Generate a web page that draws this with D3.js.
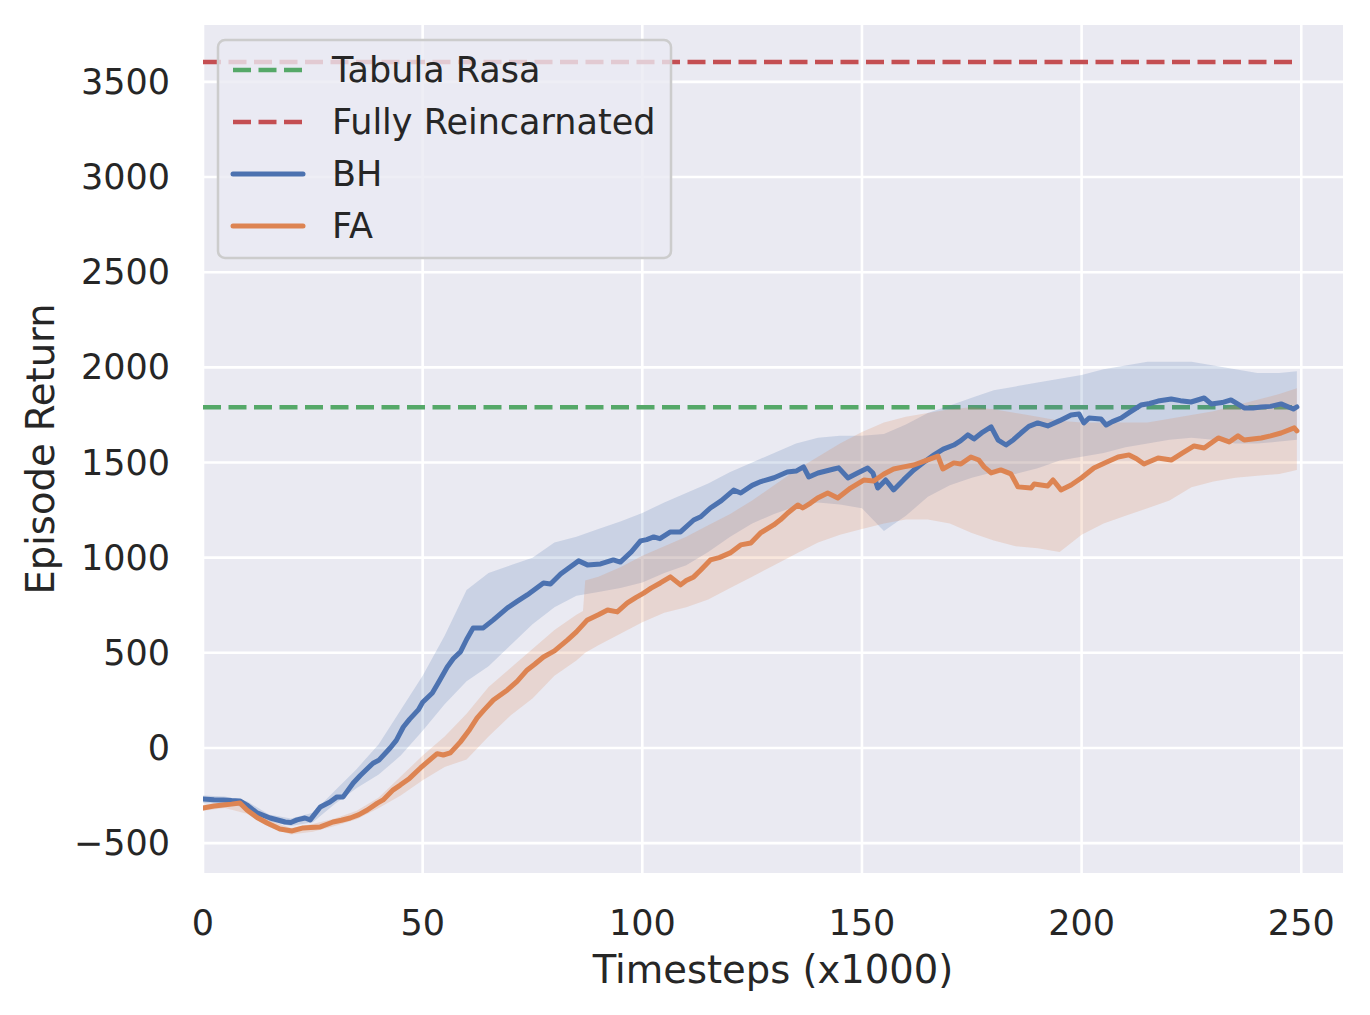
<!DOCTYPE html>
<html>
<head>
<meta charset="utf-8">
<script src="https://cdn.jsdelivr.net/npm/d3@7"></script>
<style>
  body { margin: 0; background: #fff; }
  text { font-family: "DejaVu Sans", sans-serif; fill: #262626; }
</style>
</head>
<body>
<div id="chart"></div>
<script>
var w = 1370,
    h = 1015,
    left = 203,
    right = 1343,
    top_ = 25,
    bottom = 873;

// mean curves
var bhX = [0,2.5,4.6,6.5,8.4,10,12.3,15.3,18.7,20,21.4,23.2,24.4,26.7,28.9,30.5,31.9,34.2,35.8,38.7,40,42.6,44,45.6,47,49,50,52.2,53.5,55.6,57,58.6,60,61.5,63.8,66.1,69.3,71.5,73.8,77.5,79.1,81.4,83.5,85.5,87.5,90.5,93.4,95,97.5,99.6,101,102.6,104,106.4,108.7,111.7,113.3,115.5,118,120.8,122.4,125,127,130,133,135,136.7,137.9,140,143.6,144.7,146.8,149,151.3,152.5,153.6,155.4,157.2,159.5,161.8,164,166.4,168.5,170.9,172.5,174.1,175.5,177.5,179.4,181,182.8,184.5,186.2,188,190,192.3,195,197.6,199.4,200.5,201.7,204.4,205.6,207,209,211,213.5,215.5,217.4,220.4,222.5,224.9,227.9,229.5,232,234,237,239,240.9,243,245.4,248.2,249];
var bhY = [-268,-272,-273,-276,-278,-300,-341,-368,-389,-392,-378,-368,-378,-310,-284,-257,-257,-184,-145,-80,-65,0,40,110,150,200,240,289,340,426,470,505,570,631,631,673,736,770,804,867,862,914,950,983,962,967,988,977,1030,1088,1095,1109,1100,1135,1135,1198,1215,1261,1300,1355,1340,1380,1400,1420,1450,1455,1477,1424,1445,1466,1472,1419,1445,1471,1445,1366,1408,1356,1410,1461,1500,1540,1570,1592,1615,1645,1624,1660,1687,1618,1592,1620,1655,1690,1708,1692,1720,1750,1755,1708,1734,1729,1697,1715,1734,1765,1802,1810,1823,1834,1825,1818,1839,1808,1815,1829,1787,1787,1792,1795,1808,1781,1792];

var faX = [0,2.5,4.6,6.5,8.4,10,12.3,14.6,17.5,20.3,22.8,24.5,26.7,29.6,31.5,33.5,35.5,37.4,39.7,41,43.3,44.9,47,49.5,51.5,53.3,54.7,56.3,58.6,60.5,62.4,64,66.1,69.3,71.5,73.8,75.5,77.5,80,83,85,87.5,90,92.1,94.3,96.6,98.5,100.3,102,104.1,106.4,108.7,110,111.7,113.3,115.5,117.5,120,122.4,124.7,126.9,129.9,131.5,133.1,135.4,136.5,138.3,139.9,142.2,144.5,147.4,150.4,152.7,155,157.2,159.5,161.8,164.5,167.3,168.4,170.9,172.5,174.8,176.6,177.8,179.4,181.6,183.9,185.5,188.5,189.2,192.3,193.5,195.3,197.6,200,202.8,205.5,208.3,210.8,212.5,214.2,217.4,220.4,223,225.6,227.9,231.1,233.6,235.6,237,240.9,243,245.4,248.4,249];
var faY = [-315,-305,-300,-295,-289,-326,-365,-394,-426,-436,-420,-418,-415,-389,-380,-368,-350,-326,-290,-273,-220,-195,-160,-105,-65,-30,-37,-26,32,90,158,200,252,305,350,410,440,478,510,568,610,673,700,725,715,762,790,814,840,867,899,857,880,899,935,988,1000,1025,1067,1077,1130,1172,1200,1235,1277,1261,1287,1314,1340,1314,1366,1408,1403,1440,1466,1477,1487,1510,1534,1466,1498,1492,1529,1513,1477,1445,1461,1440,1372,1366,1387,1377,1408,1356,1382,1420,1471,1500,1529,1540,1520,1492,1524,1513,1550,1587,1576,1629,1608,1640,1618,1629,1640,1655,1682,1666];

// shaded bands
var bhBandX = [0,5,10,15,20,25,30,35,40,45,50,55,60,65,70,75,80,85,90,95,100,105,110,115,120,125,130,135,140,145,150,155,160,165,170,175,180,185,190,195,200,205,210,215,220,225,230,235,240,245,249];
var bhLo = [-290,-290,-315,-385,-410,-390,-295,-210,-140,-40,90,230,350,430,540,650,740,800,820,840,870,920,960,1030,1110,1180,1230,1270,1290,1280,1260,1140,1220,1320,1380,1420,1450,1440,1470,1510,1530,1550,1580,1600,1620,1630,1620,1600,1600,1610,1620];
var bhHi = [-250,-255,-280,-350,-370,-340,-225,-110,20,200,380,590,830,920,960,1000,1080,1110,1150,1190,1235,1290,1340,1390,1450,1500,1550,1600,1630,1640,1640,1650,1700,1760,1800,1840,1880,1900,1920,1940,1960,1990,2010,2030,2030,2030,2010,1990,1970,1970,1980];

var faBandX = [0,5,10,15,20,25,30,35,40,45,50,55,60,65,70,75,80,85,86.5,87,90,95,100,105,110,115,120,125,130,135,140,145,150,155,160,165,170,175,180,185,190,195,200,205,210,215,220,225,230,235,240,245,249];
var faLo = [-330,-315,-345,-415,-455,-440,-410,-375,-315,-250,-170,-100,-60,60,170,260,380,460,490,500,540,600,660,710,740,780,840,900,960,1020,1080,1120,1150,1180,1200,1200,1180,1130,1090,1060,1050,1030,1120,1180,1220,1260,1300,1370,1400,1420,1430,1440,1460];
var faHi = [-300,-285,-305,-380,-420,-400,-370,-330,-260,-150,-40,60,180,320,420,520,620,700,720,880,900,950,1010,1060,1110,1170,1230,1300,1380,1460,1530,1600,1660,1710,1740,1760,1780,1790,1780,1760,1740,1720,1710,1710,1710,1710,1730,1750,1770,1800,1830,1860,1890];

var tabulaRasa = 1790,
    fullyReinc = 3605,
    refRange = [0, 249];

var xTicks = [0, 50, 100, 150, 200, 250],
    yTicks = [-500, 0, 500, 1000, 1500, 2000, 2500, 3000, 3500];

var blue = '#4C72B0', orange = '#DD8452', green = '#55A868', red = '#C44E52';

var svg = d3.select("#chart")
    .append("svg")
    .attr("width", w)
    .attr("height", h);

var x = d3.scaleLinear().domain([0, 259.5]).range([left, right]),
    y = d3.scaleLinear().domain([-657, 3799]).range([bottom, top_]);

svg.append("rect")
    .attr("x", left).attr("y", top_)
    .attr("width", right - left).attr("height", bottom - top_)
    .style("fill", "#EAEAF2");

svg.append("clipPath").attr("id", "clip")
    .append("rect")
    .attr("x", left).attr("y", top_)
    .attr("width", right - left).attr("height", bottom - top_);

// grid
svg.selectAll(".gx").data(xTicks).enter().append("line")
    .attr("x1", function (d) { return x(d); }).attr("x2", function (d) { return x(d); })
    .attr("y1", top_).attr("y2", bottom)
    .style("stroke", "#fff").style("stroke-width", 2.6);
svg.selectAll(".gy").data(yTicks).enter().append("line")
    .attr("x1", left).attr("x2", right)
    .attr("y1", function (d) { return y(d); }).attr("y2", function (d) { return y(d); })
    .style("stroke", "#fff").style("stroke-width", 2.6);

// tick labels
svg.selectAll(".xt").data(xTicks).enter().append("text")
    .attr("x", function (d) { return x(d); })
    .attr("y", 935)
    .attr("text-anchor", "middle")
    .style("font-size", "35px")
    .text(function (d) { return d; });
svg.selectAll(".yt").data(yTicks).enter().append("text")
    .attr("x", 170)
    .attr("y", function (d) { return y(d) + 12; })
    .attr("text-anchor", "end")
    .style("font-size", "35px")
    .text(function (d) { return d < 0 ? "\u2212" + (-d) : d; });

svg.append("text")
    .attr("x", (left + right) / 2)
    .attr("y", 983)
    .attr("text-anchor", "middle")
    .style("font-size", "38.5px")
    .text("Timesteps (x1000)");
svg.append("text")
    .attr("transform", "translate(54," + ((top_ + bottom) / 2) + ") rotate(-90)")
    .attr("text-anchor", "middle")
    .style("font-size", "38.5px")
    .text("Episode Return");

var plot = svg.append("g").attr("clip-path", "url(#clip)");

function band(xs, lo, hi, col) {
    var a = d3.area()
        .x(function (d, i) { return x(xs[i]); })
        .y0(function (d, i) { return y(lo[i]); })
        .y1(function (d, i) { return y(hi[i]); });
    plot.append("path").datum(xs).attr("d", a)
        .style("fill", col).style("fill-opacity", 0.2).style("stroke", "none");
}
function curve(xs, ys, col) {
    var l = d3.line()
        .x(function (d, i) { return x(xs[i]); })
        .y(function (d, i) { return y(ys[i]); });
    plot.append("path").datum(xs).attr("d", l)
        .style("fill", "none").style("stroke", col).style("stroke-width", 5)
        .style("stroke-linejoin", "round").style("stroke-linecap", "round");
}
function refLine(v, col) {
    plot.append("line")
        .attr("x1", x(refRange[0])).attr("x2", x(refRange[1]))
        .attr("y1", y(v)).attr("y2", y(v))
        .style("stroke", col).style("stroke-width", 4.5)
        .style("stroke-dasharray", "18,7.5");
}

refLine(tabulaRasa, green);
refLine(fullyReinc, red);
band(bhBandX, bhLo, bhHi, blue);
band(faBandX, faLo, faHi, orange);
curve(bhX, bhY, blue);
curve(faX, faY, orange);

// legend
var legend = svg.append("g");
legend.append("rect")
    .attr("x", 218).attr("y", 40).attr("width", 453).attr("height", 218)
    .attr("rx", 7)
    .style("fill", "#EAEAF2").style("fill-opacity", 0.8)
    .style("stroke", "#cccccc").style("stroke-width", 2.5);

var legendItems = [
    {name: "Tabula Rasa", col: green, dash: true},
    {name: "Fully Reincarnated", col: red, dash: true},
    {name: "BH", col: blue, dash: false},
    {name: "FA", col: orange, dash: false}
];
legendItems.forEach(function (d, i) {
    var cy = 70 + i * 52;
    legend.append("line")
        .attr("x1", 233).attr("x2", 303).attr("y1", cy).attr("y2", cy)
        .style("stroke", d.col).style("stroke-width", d.dash ? 4.5 : 5)
        .style("stroke-linecap", d.dash ? "butt" : "round")
        .style("stroke-dasharray", d.dash ? "18,7.5" : null);
    legend.append("text")
        .attr("x", 332).attr("y", cy + 12)
        .style("font-size", "35px")
        .text(d.name);
});
</script>
</body>
</html>
